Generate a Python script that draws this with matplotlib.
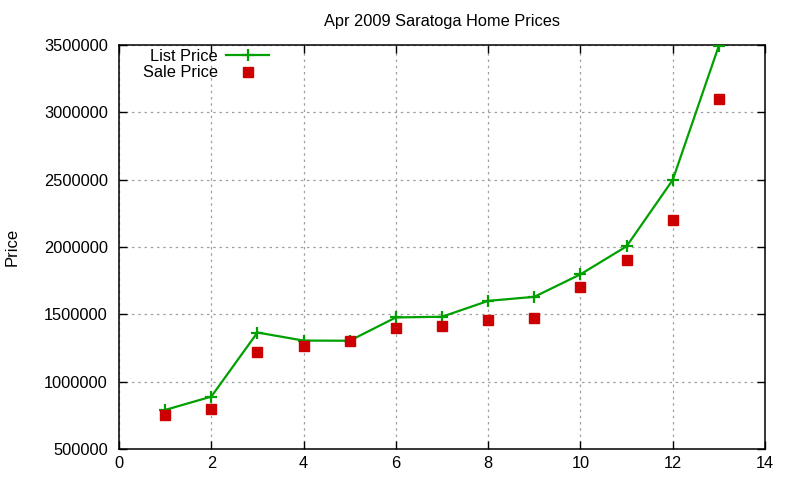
import matplotlib
matplotlib.use("Agg")
import matplotlib.pyplot as plt

months = [1, 2, 3, 4, 5, 6, 7, 8, 9, 10, 11, 12, 13]
list_price = [790000, 889000, 1365000, 1305000, 1304000, 1477000, 1482000,
              1600000, 1630000, 1797000, 2005000, 2498000, 3495000]
sale_price = [752000, 799000, 1223000, 1267000, 1304000, 1400000, 1413000,
              1458000, 1473000, 1703000, 1906000, 2201000, 3099000]
x_ticks = [0, 2, 4, 6, 8, 10, 12, 14]
y_ticks = [500000, 1000000, 1500000, 2000000, 2500000, 3000000, 3500000]

plt.rcParams['font.family'] = ['Liberation Sans', 'DejaVu Sans']

fig = plt.figure(figsize=(8, 4.8), dpi=100)
ax = fig.add_axes([119/800, 1 - 449/480, (765-119)/800, (449-45)/480])

ax.plot(months, list_price, color='#00a000', linewidth=1.6, marker='+',
        markersize=9, markeredgewidth=1.6, label='List Price', zorder=3)
ax.plot(months, sale_price, linestyle='none', marker='s', color='#cc0000',
        markersize=6.5, label='Sale Price', zorder=3)

ax.set_xlim(0, 14)
ax.set_ylim(500000, 3500000)
ax.set_xticks(x_ticks)
ax.set_yticks(y_ticks)
ax.set_xticklabels([str(v) for v in x_ticks])
ax.set_yticklabels([str(v) for v in y_ticks])
ax.tick_params(direction='in', top=True, right=True, length=6, labelsize=11.8,
               width=1)
ax.tick_params(axis='y', pad=8)
ax.tick_params(axis='x', pad=5)
ax.grid(True, color='#a0a0a0', linestyle=(0, (2, 3)), linewidth=0.9)
for s in ax.spines.values():
    s.set_linewidth(1.1)

ax.set_title('Apr 2009 Saratoga Home Prices', fontsize=11.8, pad=14)
ax.set_ylabel('Price', fontsize=12)
ax.yaxis.set_label_coords(-0.154, 0.5)

leg = ax.legend(loc='upper left', bbox_to_anchor=(0.022, 1.015), frameon=False,
                markerfirst=False, fontsize=11.8, handlelength=2.6,
                handletextpad=0.5, labelspacing=0.1, borderaxespad=0.2)

fig.savefig('out.png', dpi=100)
